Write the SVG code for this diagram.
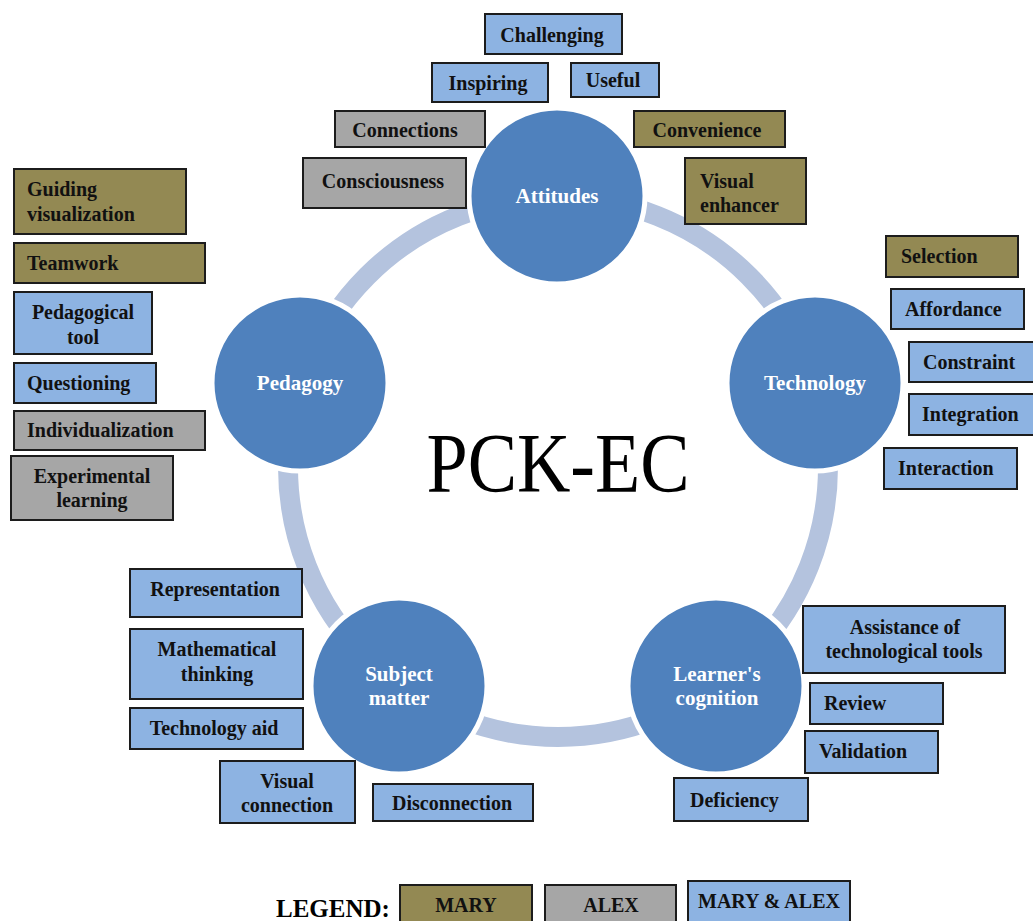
<svg xmlns="http://www.w3.org/2000/svg" width="1033" height="921" viewBox="0 0 1033 921">
<style>
.bx{stroke:#1c1c1c;stroke-width:2}
.mary{fill:#938953}
.alex{fill:#a6a6a6}
.both{fill:#8db3e2}
.t{font-family:"Liberation Serif",serif;font-weight:bold;font-size:20px;fill:#111}
.c{text-anchor:middle}
.node circle{fill:#4f81bd;stroke:#fff;stroke-width:5}
.nt{font-family:"Liberation Serif",serif;font-weight:bold;font-size:21px;fill:#fff;text-anchor:middle}
</style>
<rect width="1033" height="921" fill="#fff"/>
<g id="connectors">
<circle cx="558" cy="467" r="270" fill="none" stroke="#b4c3de" stroke-width="20"/>
</g>
<text x="558" y="492" font-family="Liberation Serif,serif" font-size="84" fill="#000" text-anchor="middle" textLength="263" lengthAdjust="spacingAndGlyphs">PCK-EC</text>
<g id="attitudes" class="node"><circle cx="557" cy="196" r="88"/><text class="nt" x="557" y="203">Attitudes</text></g>
<g id="technology" class="node"><circle cx="815" cy="383" r="88"/><text class="nt" x="815" y="390">Technology</text></g>
<g id="learners-cognition" class="node"><circle cx="716" cy="686" r="88"/><text class="nt" x="717" y="681">Learner's</text><text class="nt" x="717" y="705">cognition</text></g>
<g id="subject-matter" class="node"><circle cx="399" cy="686" r="88"/><text class="nt" x="399" y="681">Subject</text><text class="nt" x="399" y="705">matter</text></g>
<g id="pedagogy" class="node"><circle cx="300" cy="383" r="88"/><text class="nt" x="300" y="390">Pedagogy</text></g>

<g id="challenging"><rect class="bx both" x="485" y="14" width="137" height="40"/><text class="t c" x="552" y="42">Challenging</text></g>
<g id="inspiring"><rect class="bx both" x="432" y="63" width="116" height="39"/><text class="t c" x="488" y="90">Inspiring</text></g>
<g id="useful"><rect class="bx both" x="571" y="63" width="88" height="34"/><text class="t c" x="613" y="87">Useful</text></g>
<g id="connections"><rect class="bx alex" x="335" y="111" width="150" height="36"/><text class="t c" x="405" y="137">Connections</text></g>
<g id="consciousness"><rect class="bx alex" x="303" y="158" width="163" height="50"/><text class="t c" x="383" y="188">Consciousness</text></g>
<g id="convenience"><rect class="bx mary" x="634" y="111" width="151" height="36"/><text class="t c" x="707" y="137">Convenience</text></g>
<g id="visual-enhancer"><rect class="bx mary" x="685" y="158" width="121" height="66"/><text class="t" x="700" y="188">Visual</text><text class="t" x="700" y="212">enhancer</text></g>

<g id="guiding-visualization"><rect class="bx mary" x="14" y="169" width="172" height="65"/><text class="t" x="27" y="196">Guiding</text><text class="t" x="27" y="221">visualization</text></g>
<g id="teamwork"><rect class="bx mary" x="14" y="243" width="191" height="40"/><text class="t" x="27" y="270">Teamwork</text></g>
<g id="pedagogical-tool"><rect class="bx both" x="14" y="292" width="138" height="62"/><text class="t c" x="83" y="319">Pedagogical</text><text class="t c" x="83" y="344">tool</text></g>
<g id="questioning"><rect class="bx both" x="14" y="363" width="142" height="40"/><text class="t" x="27" y="390">Questioning</text></g>
<g id="individualization"><rect class="bx alex" x="14" y="411" width="191" height="39"/><text class="t" x="27" y="437">Individualization</text></g>
<g id="experimental-learning"><rect class="bx alex" x="11" y="456" width="162" height="64"/><text class="t c" x="92" y="483">Experimental</text><text class="t c" x="92" y="507">learning</text></g>

<g id="selection"><rect class="bx mary" x="886" y="236" width="132" height="41"/><text class="t" x="901" y="263">Selection</text></g>
<g id="affordance"><rect class="bx both" x="891" y="289" width="133" height="40"/><text class="t" x="905" y="316">Affordance</text></g>
<g id="constraint"><rect class="bx both" x="909" y="342" width="126" height="40"/><text class="t" x="923" y="369">Constraint</text></g>
<g id="integration"><rect class="bx both" x="909" y="394" width="126" height="41"/><text class="t" x="922" y="421">Integration</text></g>
<g id="interaction"><rect class="bx both" x="884" y="448" width="133" height="41"/><text class="t" x="898" y="475">Interaction</text></g>

<g id="representation"><rect class="bx both" x="130" y="569" width="172" height="48"/><text class="t c" x="215" y="596">Representation</text></g>
<g id="mathematical-thinking"><rect class="bx both" x="130" y="629" width="173" height="70"/><text class="t c" x="217" y="656">Mathematical</text><text class="t c" x="217" y="681">thinking</text></g>
<g id="technology-aid"><rect class="bx both" x="130" y="708" width="173" height="41"/><text class="t c" x="214" y="735">Technology aid</text></g>
<g id="visual-connection"><rect class="bx both" x="220" y="761" width="135" height="62"/><text class="t c" x="287" y="788">Visual</text><text class="t c" x="287" y="812">connection</text></g>
<g id="disconnection"><rect class="bx both" x="373" y="784" width="160" height="37"/><text class="t c" x="452" y="810">Disconnection</text></g>

<g id="assistance"><rect class="bx both" x="803" y="606" width="202" height="67"/><text class="t c" x="905" y="634">Assistance of</text><text class="t c" x="904" y="658">technological tools</text></g>
<g id="review"><rect class="bx both" x="810" y="683" width="133" height="41"/><text class="t" x="824" y="710">Review</text></g>
<g id="validation"><rect class="bx both" x="805" y="731" width="133" height="42"/><text class="t" x="819" y="758">Validation</text></g>
<g id="deficiency"><rect class="bx both" x="674" y="778" width="134" height="43"/><text class="t" x="690" y="807">Deficiency</text></g>

<g id="legend">
<text x="276" y="917" font-family="Liberation Serif,serif" font-weight="bold" font-size="25" fill="#000">LEGEND:</text>
<rect class="bx mary" x="400" y="885" width="132" height="40"/><text class="t c" x="466" y="912" font-size="18">MARY</text>
<rect class="bx alex" x="545" y="885" width="131" height="40"/><text class="t c" x="611" y="912" font-size="18">ALEX</text>
<rect class="bx both" x="688" y="881" width="162" height="44"/><text class="t c" x="769" y="908" font-size="18">MARY &amp; ALEX</text>
</g>
</svg>
